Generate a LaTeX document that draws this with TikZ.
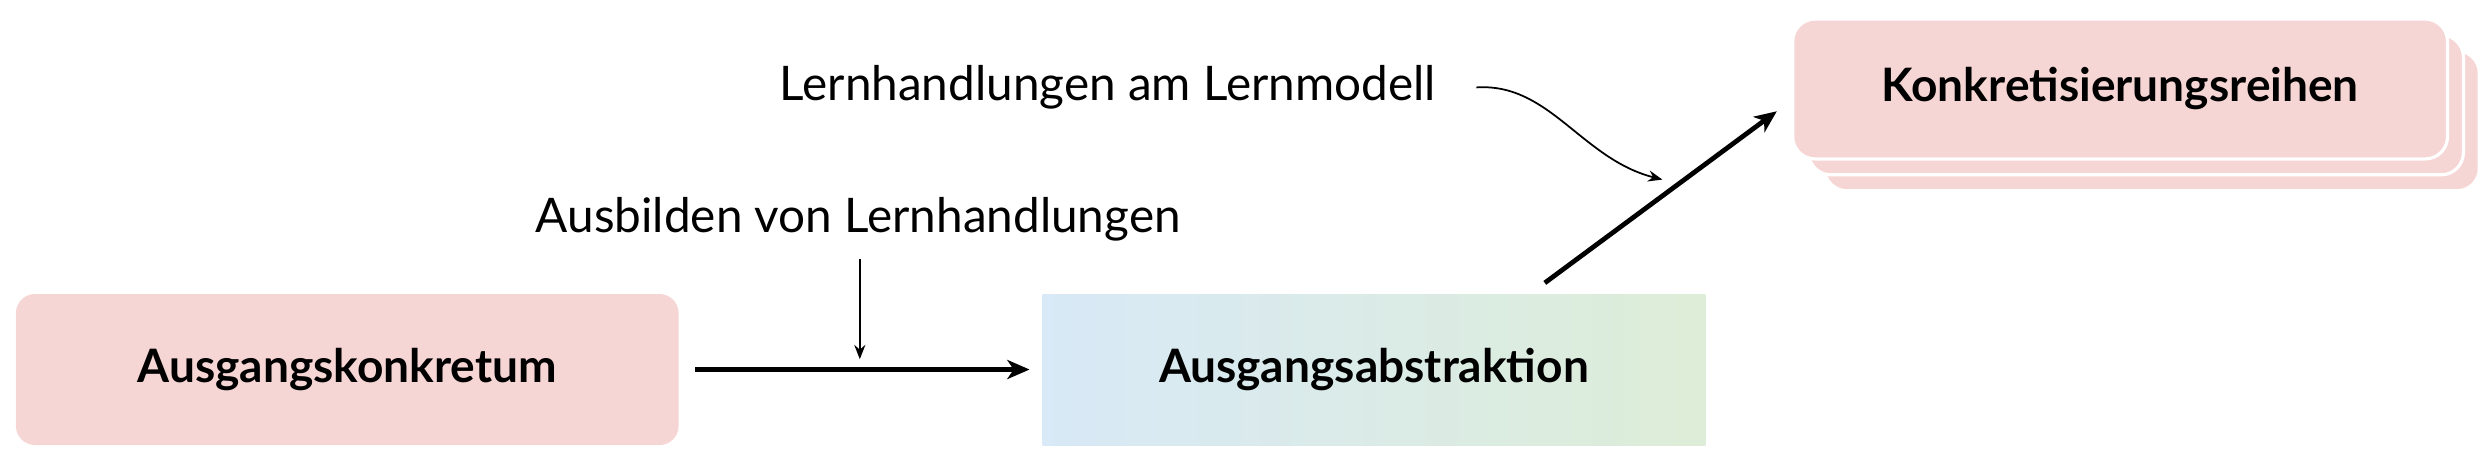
\documentclass[tikz,border=0pt]{standalone}
\usepackage{fontspec}
\setmainfont{Lato}
\usetikzlibrary{arrows.meta}
\definecolor{pinkbox}{HTML}{F6D6D4}
\definecolor{absL}{HTML}{D8E9F7}
\definecolor{absR}{HTML}{DDEDD7}
\begin{document}
\begin{tikzpicture}[x=1pt,y=-1pt,
  titletext/.style={font=\fontsize{29}{34}\selectfont\bfseries, text=black},
  labeltext/.style={font=\fontsize{30}{36}\selectfont, text=black, inner sep=0pt},
  pinkbox/.style={fill=pinkbox, rounded corners=12pt, minimum width=417pt, minimum height=95pt, inner sep=0pt},
  stackbox/.style={fill=pinkbox, draw=white, line width=2pt, rounded corners=14pt, minimum width=412pt, minimum height=88pt, inner sep=0pt},
  absbox/.style={left color=absL, right color=absR, minimum width=417pt, minimum height=95pt, inner sep=0pt},
  thickarrow/.style={line width=3pt, -{Stealth[length=14pt, width=12pt, inset=4pt]}},
  thinarrow/.style={line width=1.1pt, -{Stealth[length=9pt, width=7pt, inset=3pt]}}
]
\useasboundingbox (0,0) rectangle (1568,292);
% stacked boxes
\node[stackbox] (k3) at (1354,76) {};
\node[stackbox] (k2) at (1344,66) {};
\node[stackbox, titletext] (k1) at (1334,56) {Konkretisierungsreihen};
% main boxes
\node[pinkbox, titletext] (konk) at (218.5,232.5) {Ausgangskonkretum};
\node[absbox, titletext] (abs) at (864.5,232.5) {Ausgangsabstraktion};
% labels
\node[labeltext] (lab1) at (540,138) {Ausbilden von Lernhandlungen};
\node[labeltext] (lab2) at (697,55) {Lernhandlungen am Lernmodell};
% connectors
\draw[thickarrow, shorten <=10pt, shorten >=8pt] (konk) -- (abs);
\coordinate (d1) at (541,163);
\coordinate (d2) at (541,226);
\draw[thinarrow] (d1) -- (d2);
\coordinate (a3s) at (972,178);
\coordinate (a3e) at (1118,70);
\draw[thickarrow] (a3s) -- (a3e);
\coordinate (c1) at (929,55);
\coordinate (c2) at (1046,113);
\draw[thinarrow] (c1) .. controls (975,52) and (995,100) .. (c2);
\end{tikzpicture}
\end{document}
